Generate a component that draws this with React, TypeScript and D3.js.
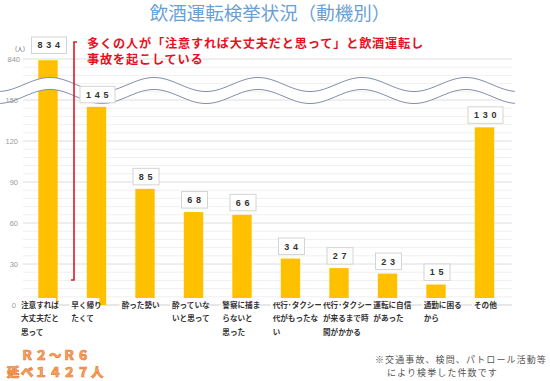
import React from "react";
import * as d3 from "d3";

const title = "飲酒運転検挙状況（動機別）";
const categories = [
  "注意すれば大丈夫だと思って",
  "早く帰りたくて",
  "酔った勢い",
  "酔っていないと思って",
  "警察に捕まらないと思った",
  "代行・タクシー代がもったない",
  "代行・タクシーが来るまで時間がかかる",
  "運転に自信があった",
  "通勤に困るから",
  "その他",
];
const labelLines = [
  ["注意すれば", "大丈夫だと", "思って"],
  ["早く帰り", "たくて"],
  ["酔った勢い"],
  ["酔っていな", "いと思って"],
  ["警察に捕ま", "らないと", "思った"],
  ["代行･タクシー", "代がもったな", "い"],
  ["代行･タクシー", "が来るまで時", "間がかかる"],
  ["運転に自信", "があった"],
  ["通勤に困る", "から"],
  ["その他"],
];
const values = [834, 145, 85, 68, 66, 34, 27, 23, 15, 130];
const tickValues = [0, 30, 60, 90, 120, 150];
const breakTickLabel = "840";
const unitLabel = "(人)";
const annotationLines = [
  "多くの人が「注意すれば大丈夫だと思って」と飲酒運転し",
  "事故を起こしている",
];
const totalLines = ["Ｒ２～Ｒ６", "延べ１４２７人"];
const noteLines = ["※交通事故、検問、パトロール活動等", "により検挙した件数です"];

const JP = "'Noto Sans CJK JP', 'Noto Sans', sans-serif";
const LAT = "'Liberation Sans', Arial, sans-serif";

export default function App() {
  const W = 550;
  const H = 381;
  const idx = categories.map((_, i) => i);
  const x = d3
    .scaleBand<number>()
    .domain(idx)
    .range([23.75, 508.75])
    .paddingInner(0.6)
    .paddingOuter(0.3);
  const y = d3.scaleLinear().domain([0, 180]).range([305, 59]);
  const yUpper = d3.scaleLinear().domain([800, 840]).range([y(174), y(180)]);
  const yv = (v: number) => (v > 150 ? yUpper(v) : y(v));
  const labelX = d3.scalePoint<number>().domain(idx).range([21, 474]);

  const grid = d3.range(0, 181, 6);

  const waveUp = (px: number) => 84.5 - 7 * Math.cos((2 * Math.PI * (px - 50)) / 104);
  const wx = d3.range(0, 515.5, 1);
  const upperLine = d3.line<number>().x((d) => d).y((d) => waveUp(d)).curve(d3.curveBasis)(wx) || "";
  const lowerLine = d3.line<number>().x((d) => d).y((d) => waveUp(d) + 12).curve(d3.curveBasis)(wx) || "";
  const band =
    d3
      .area<number>()
      .x((d) => d)
      .y0((d) => waveUp(d) + 12)
      .y1((d) => waveUp(d))
      .curve(d3.curveBasis)(wx) || "";

  const fs = 7.6;
  const lh = 13.5;

  return (
    <svg
      width={W}
      height={H}
      viewBox={`0 0 ${W} ${H}`}
      style={{ position: "absolute", left: 0, top: 0, background: "#fff" }}
    >
      <rect x={0} y={0} width={W} height={H} fill="#fff" />
      {/* title */}
      <text x={270} y={20} textAnchor="middle" fontFamily={JP} fontSize={18.5} fill="#6a9fd4">
        {title}
      </text>

      {/* grid */}
      {grid.map((g) => (
        <line
          key={g}
          x1={23}
          x2={512}
          y1={y(g)}
          y2={y(g)}
          stroke={g === 0 ? "#cfcfcf" : g % 30 === 0 ? "#dedede" : "#f0f0f0"}
          strokeWidth={1}
        />
      ))}

      {/* bars */}
      {values.map((v, i) => (
        <rect
          key={i}
          x={x(i)}
          y={yv(v)}
          width={x.bandwidth()}
          height={y(0) - yv(v)}
          fill="#ffc000"
        />
      ))}

      {/* wave break */}
      <path d={band} fill="#fff" />
      <path d={upperLine} fill="none" stroke="#8390ad" strokeWidth={1} />
      <path d={lowerLine} fill="none" stroke="#8390ad" strokeWidth={1} />

      {/* y tick labels */}
      {tickValues.map((t) => (
        <text
          key={t}
          x={t === 0 ? 16 : 18}
          y={y(t)}
          dy="0.35em"
          textAnchor="end"
          fontFamily={LAT}
          fontSize={7.5}
          fill="#999"
        >
          {t}
        </text>
      ))}
      <text x={20} y={y(180)} dy="0.35em" textAnchor="end" fontFamily={LAT} fontSize={7.5} fill="#999">
        {breakTickLabel}
      </text>
      <text x={20} y={51} textAnchor="middle" fontFamily={JP} fontSize={6} fill="#555">
        {unitLabel}
      </text>

      {/* value boxes */}
      {values.map((v, i) => {
        const s = String(v);
        const bw = s.length === 3 ? 35 : 26;
        const bh = 16.5;
        const cx = (x(i) as number) + x.bandwidth() / 2 + 1;
        const top = v > 150 ? 37 : yv(v) - 4 - bh;
        return (
          <g key={i}>
            <rect x={cx - bw / 2} y={top} width={bw} height={bh} fill="#fff" stroke="#d4d4d4" strokeWidth={1} />
            <text
              x={cx}
              y={top + bh / 2}
              dy="0.36em"
              textAnchor="middle"
              fontFamily={LAT}
              fontWeight="bold"
              fontSize={9}
              fill="#333"
              letterSpacing={0.6}
            >
              {s.split("").join(" ")}
            </text>
          </g>
        );
      })}

      {/* category labels */}
      {labelLines.map((lines, i) => {
        const lx = labelX(i) as number;
        const maxLen = d3.max(lines, (l) => l.length) || 0;
        return (
          <g key={i}>
            <rect x={lx - 2} y={298} width={maxLen * fs * 0.92 + 2} height={lines.length * lh + 4} fill="#fff" />
            {lines.map((l, j) => (
              <text
                key={j}
                x={lx}
                y={305 + j * lh}
                dy="0.36em"
                fontFamily={JP}
                fontWeight="bold"
                fontSize={fs}
                fill="#333"
              >
                {l}
              </text>
            ))}
          </g>
        );
      })}

      {/* red annotation */}
      <path d="M77,42 H74 V280 H71" fill="none" stroke="#d9192b" strokeWidth={1.6} />
      {annotationLines.map((l, i) => (
        <text
          key={i}
          x={87}
          y={47.5 + i * 16.8}
          fontFamily={JP}
          fontWeight="bold"
          fontSize={12.2}
          letterSpacing={0.8}
          fill="#e8101e"
        >
          {l}
        </text>
      ))}

      {/* totals */}
      {totalLines.map((l, i) => (
        <text
          key={i}
          x={56}
          y={359.5 + i * 17}
          textAnchor="middle"
          fontFamily={JP}
          fontWeight="900"
          fontSize={12.4}
          letterSpacing={1.6}
          fill="#f5a35f"
          stroke="#e8772c"
          strokeWidth={0.6}
        >
          {l}
        </text>
      ))}

      {/* note */}
      <text x={375} y={363} fontFamily={JP} fontSize={9} letterSpacing={1.1} fill="#555">
        {noteLines[0]}
      </text>
      <text x={387} y={375.6} fontFamily={JP} fontSize={9} letterSpacing={1.1} fill="#555">
        {noteLines[1]}
      </text>
    </svg>
  );
}
